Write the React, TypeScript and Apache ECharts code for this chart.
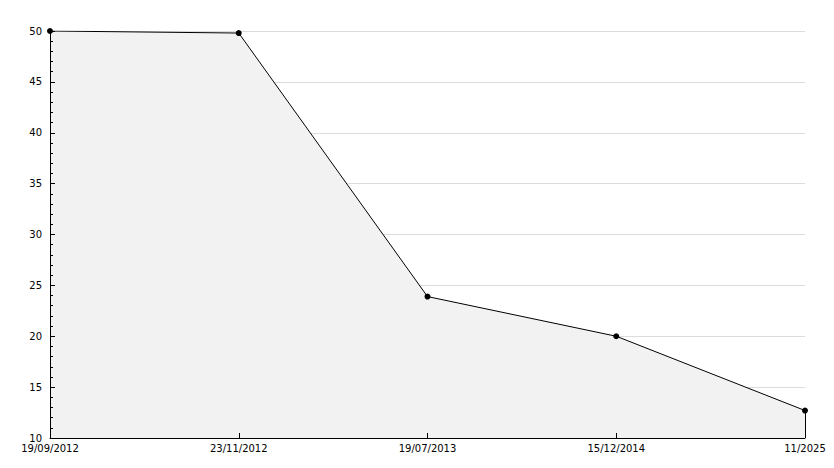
import React, { useEffect, useRef } from "react";
import * as echarts from "echarts";

const categories = ["19/09/2012", "23/11/2012", "19/07/2013", "15/12/2014", "11/2025"];
const values = [50, 49.8, 23.9, 20, 12.7];
const yMin = 10;
const yMax = 50;
const yInterval = 5;

export default function App() {
  const ref = useRef<HTMLDivElement>(null);
  useEffect(() => {
    if (!ref.current) return;
    const chart = echarts.init(ref.current, null, { renderer: "svg" });
    const font = "DejaVu Sans";
    chart.setOption({
      animation: false,
      backgroundColor: "#ffffff",
      grid: { left: 50, right: 29, top: 31, bottom: 30, containLabel: false },
      xAxis: {
        type: "category",
        data: categories,
        boundaryGap: false,
        z: 10,
        axisLine: { lineStyle: { color: "#000", width: 1 } },
        axisTick: { inside: true, length: 5, lineStyle: { color: "#000", width: 1 }, alignWithLabel: true },
        axisLabel: { color: "#000", fontFamily: font, fontSize: 10, margin: 5, interval: 0 },
        splitLine: { show: false },
      },
      yAxis: [
        {
          type: "value",
          min: yMin,
          max: yMax,
          interval: yInterval,
          z: 0,
          axisLine: { show: false },
          axisTick: { show: false },
          axisLabel: { show: false },
          splitLine: { show: true, lineStyle: { color: "#dcdcdc", width: 1 } },
        },
        {
          type: "value",
          position: "left",
          min: yMin,
          max: yMax,
          interval: yInterval,
          z: 10,
          axisLine: { show: true, onZero: false, lineStyle: { color: "#000", width: 1 } },
          axisTick: { show: true, inside: true, length: 5, lineStyle: { color: "#000", width: 1 } },
          minorTick: { show: true, splitNumber: 5, length: 3, lineStyle: { color: "#000", width: 1 } },
          axisLabel: { color: "#000", fontFamily: font, fontSize: 10, margin: 8 },
          splitLine: { show: false },
        },
      ],
      series: [
        {
          type: "line",
          data: values,
          yAxisIndex: 0,
          z: 2,
          symbol: "circle",
          symbolSize: 6,
          itemStyle: { color: "#000" },
          lineStyle: { color: "#000", width: 1 },
          areaStyle: { color: "#f2f2f2", opacity: 1 },
          markLine: {
            silent: true,
            symbol: "none",
            label: { show: false },
            lineStyle: { color: "#000", width: 1, type: "solid" },
            data: [
              [
                { coord: [categories.length - 1, values[values.length - 1]] },
                { coord: [categories.length - 1, yMin] },
              ],
            ],
          },
        },
      ],
    });
    return () => chart.dispose();
  }, []);
  return (
    <div
      ref={ref}
      style={{ position: "fixed", left: 0, top: 0, width: 834, height: 468 }}
    />
  );
}
